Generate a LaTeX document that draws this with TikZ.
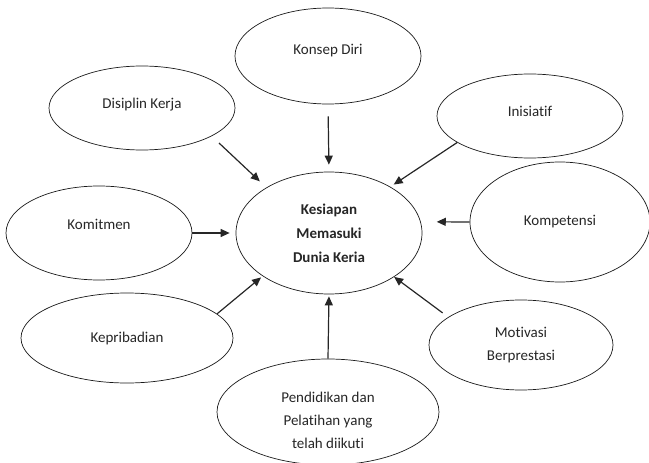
\documentclass[tikz,border=0pt]{standalone}
\usepackage{fontspec}
\setmainfont[Ligatures=NoCommon]{Carlito}
\usetikzlibrary{arrows.meta,shapes.geometric}
\tikzset{
  bubble/.style={ellipse, draw=black!90, line width=0.7pt, inner sep=0pt,
                 align=center, text=black!85, font=\fontsize{15}{23}\selectfont},
  core/.style={bubble, font=\fontsize{15}{24}\selectfont\bfseries},
  raise/.style={text depth=#1},
  lower/.style={text height=#1},
  arr/.style={-{Triangle[length=9pt,width=8pt]}, line width=1.2pt, black!85},
}
\begin{document}
\begin{tikzpicture}[x=1pt,y=-1pt]
  \useasboundingbox (0,0) rectangle (649,463);
  \node[core, minimum width=186pt, minimum height=122pt] (kesiapan) at (329,233)
       {Kesiapan\\Memasuki\\Dunia Keria};
  \node[bubble, raise=14pt, minimum width=186pt, minimum height=96pt] (konsep) at (328,56) {Konsep Diri};
  \node[bubble, raise=10pt, minimum width=186pt, minimum height=84pt] (disiplin) at (142,108) {Disiplin Kerja};
  \node[bubble, raise=10pt, minimum width=186pt, minimum height=84pt] (inisiatif) at (530,116) {Inisiatif};
  \node[bubble, raise=18pt, minimum width=186pt, minimum height=94pt] (komitmen) at (99,233) {Komitmen};
  \node[bubble, raise=4pt, minimum width=180pt, minimum height=120pt] (kompetensi) at (560,222) {Kompetensi};
  \node[bubble, minimum width=212pt, minimum height=90pt] (kepribadian) at (127,338) {Kepribadian};
  \node[bubble, minimum width=184pt, minimum height=90pt] (motivasi) at (521,345) {Motivasi\\Berprestasi};
  \node[bubble, lower=73pt, minimum width=222pt, minimum height=106pt] (pendidikan) at (328,412)
       {Pendidikan dan\\Pelatihan yang\\telah diikuti};
  \draw[arr, shorten <=12pt, shorten >=7pt] (konsep.south) -- (kesiapan.north);
  \draw[arr, shorten <=10pt, shorten >=9pt] (disiplin.-22.6) -- (kesiapan.144.8);
  \draw[arr, shorten >=4pt] (inisiatif.200) -- (kesiapan.37.4);
  \draw[arr, shorten >=6pt] (komitmen.east) -- (kesiapan.west);
  \draw[arr, shorten >=16pt] (kompetensi.west) -- (kesiapan.7);
  \draw[arr, shorten >=2pt] (kepribadian.15.4) -- (kesiapan.213.3);
  \draw[arr, shorten <=7pt] (motivasi.159.2) -- (kesiapan.-34.5);
  \draw[arr, shorten >=2pt] (pendidikan.north) -- (kesiapan.south);
\end{tikzpicture}
\end{document}
